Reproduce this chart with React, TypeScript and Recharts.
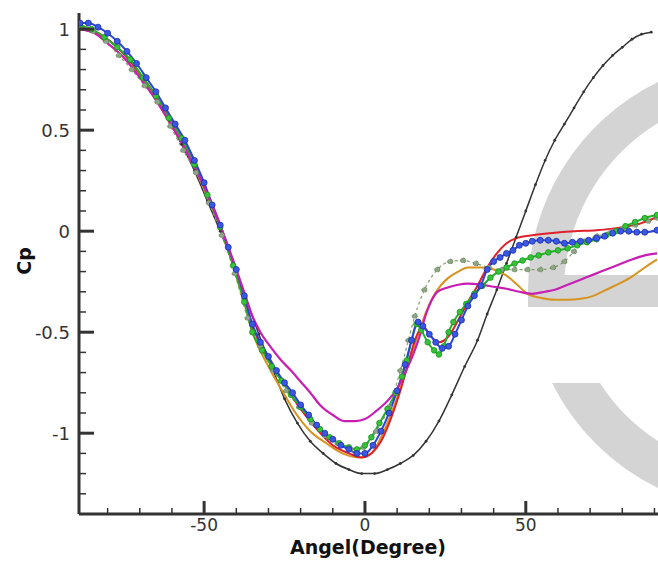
import { LineChart, Line, XAxis, YAxis } from "recharts"

type Pt = [number, number]

// axis setup
const xDomain: [number, number] = [-88.9, 91.1]
const yDomain: [number, number] = [-1.4, 1.08]
const xTicks = [-80, -70, -60, -50, -40, -30, -20, -10, 0, 10, 20, 30, 40, 50, 60, 70, 80, 90]
const yTicks = [-1.3, -1.2, -1.1, -1, -0.9, -0.8, -0.7, -0.6, -0.5, -0.4, -0.3, -0.2, -0.1, 0, 0.1, 0.2, 0.3, 0.4, 0.5, 0.6, 0.7, 0.8, 0.9, 1]

// [angle, Cp]
const blackCurve: Pt[] = [
  [-88.6, 1.0], [-85, 0.99], [-81, 0.96], [-77, 0.91], [-73, 0.84], [-69, 0.76], [-65, 0.66], [-61, 0.55],
  [-57, 0.43], [-53, 0.3], [-49, 0.15], [-45, 0.0], [-41, -0.16], [-37, -0.33], [-33, -0.51], [-29, -0.67],
  [-25, -0.83], [-21, -0.95], [-17, -1.04], [-13, -1.1], [-9, -1.15], [-5, -1.18], [-1, -1.2], [3, -1.2],
  [7, -1.18], [11, -1.15], [15, -1.11], [19, -1.04], [23, -0.94], [27, -0.81], [31, -0.67], [35, -0.54],
  [38, -0.41], [41, -0.29], [44, -0.16], [47, -0.03], [50, 0.1], [53, 0.23], [56, 0.35], [59, 0.45],
  [62, 0.53], [65, 0.61], [68, 0.69], [71, 0.76], [74, 0.82], [77, 0.87], [80, 0.91], [83, 0.95],
  [86, 0.975], [89, 0.985],
]

const dottedCurve: Pt[] = [
  [-88.6, 1.01], [-84.5, 0.99], [-80.5, 0.94], [-76.5, 0.87], [-72.5, 0.8], [-68.5, 0.72], [-64.5, 0.64],
  [-60.5, 0.52], [-56.5, 0.4], [-52.5, 0.29], [-48.5, 0.14], [-44.5, -0.02], [-40.5, -0.21], [-36.5, -0.43],
  [-32.5, -0.57], [-28.5, -0.69], [-24.5, -0.79], [-20.5, -0.87], [-16.5, -0.95], [-12.5, -1.01],
  [-8.5, -1.05], [-4.5, -1.08], [-0.5, -1.07], [3.5, -0.99], [7.5, -0.87], [11, -0.69], [13.5, -0.54],
  [15.5, -0.42], [18.5, -0.29], [22.5, -0.19], [26.5, -0.15], [30.5, -0.145], [34.5, -0.16], [38.5, -0.18],
  [42.5, -0.19], [46.5, -0.19], [50.5, -0.19], [54.5, -0.19], [58.5, -0.18], [62, -0.15], [65, -0.1],
  [68, -0.05], [72, -0.025], [76, -0.01], [80, 0.01], [84, 0.03], [88, 0.05], [90.8, 0.065],
]

const orangeCurve: Pt[] = [
  [-88.6, 1.0], [-84, 0.98], [-80, 0.93], [-75, 0.86], [-70, 0.77], [-65, 0.65], [-60, 0.52], [-55, 0.38],
  [-50, 0.21], [-45, 0.02], [-42, -0.12], [-38, -0.33], [-35, -0.5], [-30, -0.67], [-25, -0.81], [-22, -0.89],
  [-17, -0.99], [-12, -1.05], [-7, -1.1], [-2, -1.12], [2, -1.1], [5, -1.02], [8.5, -0.89], [12, -0.73],
  [14.5, -0.61], [17, -0.49], [19, -0.4], [21, -0.33], [23.5, -0.27], [26, -0.23], [29, -0.2], [32, -0.18],
  [36, -0.18], [40, -0.19], [44, -0.22], [47, -0.26], [50.5, -0.31], [54.5, -0.33], [59, -0.34], [63, -0.34],
  [67, -0.335], [71, -0.32], [75, -0.29], [79, -0.26], [83, -0.225], [87, -0.18], [90.8, -0.14],
]

const redCurve: Pt[] = [
  [-88.6, 1.01], [-84, 0.99], [-80, 0.95], [-75, 0.88], [-70, 0.78], [-65, 0.67], [-60, 0.54], [-55, 0.4],
  [-50, 0.23], [-45, 0.03], [-42, -0.11], [-38, -0.31], [-35, -0.47], [-30, -0.63], [-25, -0.76], [-20, -0.88],
  [-15, -0.98], [-10, -1.06], [-5, -1.1], [-1, -1.12], [2, -1.1], [5, -1.04], [8, -0.93], [11, -0.79],
  [13.5, -0.65], [16, -0.52], [18, -0.47], [20.5, -0.52], [23, -0.55], [26, -0.52], [29, -0.44], [32, -0.35],
  [35, -0.27], [38, -0.18], [41, -0.11], [44, -0.06], [48, -0.03], [52, -0.02], [57.5, -0.01], [65, 0.0],
  [72, 0.005], [80, 0.02], [86, 0.04], [90.8, 0.07],
]

const greenCurve: Pt[] = [
  [-88.6, 1.02], [-85, 1.0], [-81, 0.96], [-77, 0.91], [-73, 0.85], [-69, 0.76], [-65, 0.67], [-61, 0.56],
  [-57, 0.46], [-53, 0.33], [-49, 0.18], [-45, 0.02], [-41, -0.17], [-37.5, -0.35], [-35, -0.5], [-32, -0.59],
  [-29, -0.67], [-26, -0.74], [-23, -0.81], [-20, -0.87], [-17, -0.93], [-14, -0.98], [-11, -1.02],
  [-8, -1.05], [-5, -1.07], [-2.5, -1.08], [0, -1.06], [2, -1.02], [4.5, -0.95], [7, -0.88], [9.5, -0.8],
  [11.5, -0.72], [13, -0.64], [14.5, -0.54], [16, -0.46], [17.5, -0.49], [19.5, -0.55], [21.5, -0.59],
  [23, -0.61], [24.5, -0.57], [26, -0.5], [27.5, -0.45], [29.5, -0.4], [31.5, -0.36], [34, -0.31],
  [36.5, -0.27], [39, -0.23], [41.5, -0.2], [44, -0.18], [46.5, -0.16], [49, -0.145], [51.5, -0.13],
  [54, -0.12], [57, -0.105], [60, -0.095], [63, -0.085], [66, -0.07], [69, -0.055], [72, -0.04], [75, -0.02],
  [78, 0.0], [81, 0.025], [84, 0.045], [87, 0.065], [90.8, 0.08],
]

const blueCurve: Pt[] = [
  [-88.6, 1.03], [-86, 1.03], [-83, 1.01], [-80, 0.98], [-77, 0.94], [-74, 0.89], [-71, 0.83], [-68, 0.76],
  [-65, 0.69], [-62, 0.61], [-59, 0.53], [-56, 0.45], [-53, 0.35], [-50, 0.24], [-47.5, 0.13], [-45, 0.03],
  [-42.5, -0.08], [-40, -0.19], [-37.5, -0.32], [-35, -0.46], [-32.5, -0.55], [-30, -0.62], [-27.5, -0.69],
  [-25, -0.75], [-22.5, -0.8], [-20, -0.86], [-17.5, -0.91], [-15, -0.96], [-12.5, -1.0], [-10, -1.03],
  [-7.5, -1.06], [-5, -1.08], [-2.5, -1.1], [0, -1.1], [2.5, -1.06], [5, -0.99], [7.5, -0.9], [10, -0.79],
  [12.5, -0.66], [14.5, -0.54], [16.5, -0.45], [18, -0.47], [20, -0.51], [22, -0.55], [24, -0.58],
  [26, -0.57], [28, -0.51], [30, -0.44], [32, -0.37], [34, -0.32], [36, -0.27], [38, -0.19], [40, -0.15],
  [42, -0.13], [44, -0.11], [46, -0.095], [48, -0.07], [50, -0.06], [52, -0.05], [54.5, -0.045],
  [57, -0.045], [59.5, -0.05], [62, -0.06], [64.5, -0.055], [67, -0.05], [69.5, -0.045], [72, -0.035],
  [74.5, -0.025], [77, -0.01], [79.5, 0.0], [82, 0.0], [84.5, -0.005], [87, -0.005], [90.8, 0.005],
]

const magentaCurve: Pt[] = [
  [-88.6, 1.0], [-84, 0.98], [-80, 0.93], [-75, 0.86], [-70, 0.76], [-65, 0.65], [-60, 0.52], [-55, 0.38],
  [-50, 0.22], [-45, 0.03], [-42, -0.1], [-38, -0.28], [-35, -0.42], [-32.5, -0.5], [-29, -0.58],
  [-26, -0.64], [-23, -0.69], [-20, -0.745], [-17, -0.8], [-14, -0.86], [-10, -0.91], [-6.5, -0.94],
  [-3, -0.94], [0, -0.93], [3.5, -0.89], [7, -0.84], [10, -0.78], [12.5, -0.7], [15, -0.61], [17, -0.52],
  [19, -0.41], [20.5, -0.35], [22.5, -0.3], [25.5, -0.28], [29, -0.265], [32, -0.26], [36, -0.265],
  [40, -0.275], [44, -0.285], [48, -0.3], [52, -0.31], [56, -0.3], [59, -0.29], [63, -0.265], [67, -0.24],
  [71, -0.215], [75, -0.19], [79, -0.165], [83, -0.14], [87, -0.12], [90.8, -0.11],
]

const toRows = (pts: Pt[]) => pts.map(([angle, cp]) => ({ angle, cp }))

const FONT = "'DejaVu Sans', sans-serif"

function XTick(props: any) {
  const { x, y, payload } = props
  const v = payload.value
  const major = v % 50 === 0
  return (
    <g>
      <line x1={x} y1={y} x2={x} y2={y - (major ? 13 : 6)} stroke="#333" strokeWidth={major ? 3 : 1.5} />
      {major && (
        <text x={x} y={y + 17} textAnchor="middle" fontFamily={FONT} fontSize={17} fill="#333">
          {v}
        </text>
      )}
    </g>
  )
}

function YTick(props: any) {
  const { x, y, payload } = props
  const v = payload.value
  const major = Math.abs(v * 2 - Math.round(v * 2)) < 1e-6
  return (
    <g>
      <line x1={x} y1={y} x2={x + (major ? 15 : 7)} y2={y} stroke="#333" strokeWidth={major ? 3 : 1.5} />
      {major && (
        <text x={x - 9} y={y + 6.5} textAnchor="end" fontFamily={FONT} fontSize={18} fill="#333">
          {String(v)}
        </text>
      )}
    </g>
  )
}

// gray letter shape sitting behind the plot
function Backdrop() {
  return (
    <svg width={658} height={563} style={{ position: "absolute", left: 0, top: 0 }}>
      <path
        d="M 658 82 A 232 232 0 0 0 528 290 L 528 307 L 658 307 L 658 275 L 564.6 275 A 196 196 0 0 1 658 123 Z"
        fill="#d4d4d4"
      />
      <path d="M 552 383 A 232 232 0 0 0 658 488 L 658 441 A 190 190 0 0 1 600 383 Z" fill="#d4d4d4" />
      <text x={368} y={554} textAnchor="middle" fontFamily={FONT} fontWeight="bold" fontSize={19} fill="#111">
        Angel(Degree)
      </text>
      <text
        x={0}
        y={0}
        transform="translate(31 261) rotate(-90)"
        textAnchor="middle"
        fontFamily={FONT}
        fontWeight="bold"
        fontSize={19}
        fill="#111"
      >
        Cp
      </text>
    </svg>
  )
}

export default function App() {
  return (
    <div style={{ position: "fixed", left: 0, top: 0, width: 658, height: 563, background: "#fff" }}>
      <Backdrop />
      <div style={{ position: "absolute", left: 0, top: 0 }}>
        <LineChart width={658} height={563} margin={{ top: 13, right: 0, bottom: 0, left: 0 }}>
          <XAxis
            dataKey="angle"
            type="number"
            domain={xDomain}
            allowDataOverflow
            ticks={xTicks}
            interval={0}
            height={49}
            tickSize={0}
            tickMargin={0}
            tickLine={false}
            tick={(p: any) => <XTick {...p} />}
            axisLine={{ stroke: "#333", strokeWidth: 3 }}
          />
          <YAxis
            type="number"
            domain={yDomain}
            allowDataOverflow
            ticks={yTicks}
            interval={0}
            width={79}
            tickSize={0}
            tickMargin={0}
            tickLine={false}
            tick={(p: any) => <YTick {...p} />}
            axisLine={{ stroke: "#333", strokeWidth: 3 }}
          />
          <Line
            data={toRows(blackCurve)}
            dataKey="cp"
            type="monotone"
            stroke="#333"
            strokeWidth={1.5}
            dot={{ r: 1.4, fill: "#333", stroke: "none" }}
            isAnimationActive={false}
          />
          <Line
            data={toRows(dottedCurve)}
            dataKey="cp"
            type="monotone"
            stroke="#7f9f70"
            strokeWidth={1.2}
            strokeDasharray="3 3"
            dot={{ r: 2.6, fill: "#8ea585", stroke: "#5d7d52", strokeWidth: 0.8 }}
            isAnimationActive={false}
          />
          <Line
            data={toRows(orangeCurve)}
            dataKey="cp"
            type="monotone"
            stroke="#d8921e"
            strokeWidth={2}
            dot={false}
            isAnimationActive={false}
          />
          <Line
            data={toRows(redCurve)}
            dataKey="cp"
            type="monotone"
            stroke="#e0202a"
            strokeWidth={2}
            dot={false}
            isAnimationActive={false}
          />
          <Line
            data={toRows(greenCurve)}
            dataKey="cp"
            type="monotone"
            stroke="#22b026"
            strokeWidth={2}
            dot={{ r: 2.8, fill: "#38c23a", stroke: "#1a9020", strokeWidth: 0.8 }}
            isAnimationActive={false}
          />
          <Line
            data={toRows(blueCurve)}
            dataKey="cp"
            type="monotone"
            stroke="#2a44d8"
            strokeWidth={2}
            dot={{ r: 3, fill: "#3a58e4", stroke: "#1a2ea8", strokeWidth: 0.8 }}
            isAnimationActive={false}
          />
          <Line
            data={toRows(magentaCurve)}
            dataKey="cp"
            type="monotone"
            stroke="#c81eb4"
            strokeWidth={2.2}
            dot={false}
            isAnimationActive={false}
          />
        </LineChart>
      </div>
    </div>
  )
}
